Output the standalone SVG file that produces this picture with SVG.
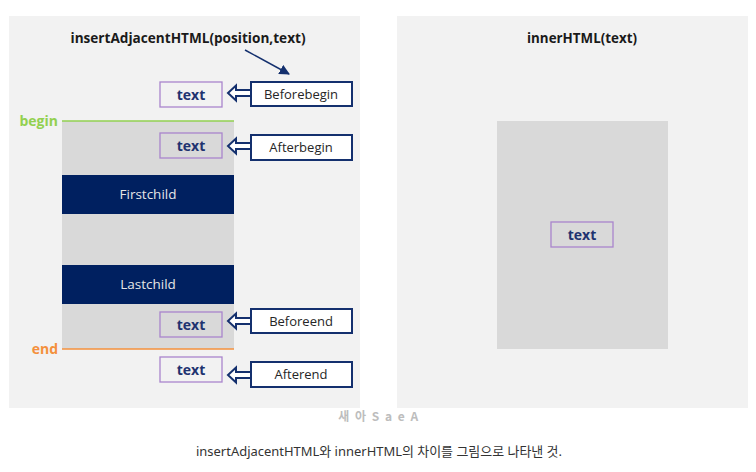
<svg xmlns="http://www.w3.org/2000/svg" width="756" height="472" viewBox="0 0 756 472">
<defs>
<style>
.panel{fill:#f2f2f2}
.title{font-family:"Open Sans","Noto Sans",sans-serif;font-weight:bold;font-size:14px;fill:#1a1a1a;text-anchor:middle}
.tbox{fill:none;stroke:#a984cc;stroke-width:1.3}
.ttxt{font-family:"Open Sans","Noto Sans",sans-serif;font-weight:bold;font-size:14px;fill:#1f3370;text-anchor:middle}
.lbox{fill:#ffffff;stroke:#14306e;stroke-width:2}
.ltxt{font-family:"Open Sans","Noto Sans",sans-serif;font-size:13px;fill:#262626;text-anchor:middle}
.child{fill:#002060}
.ctxt{font-family:"Open Sans","Noto Sans",sans-serif;font-size:13.5px;fill:#e6e6e6;text-anchor:middle}
.barrow{fill:#ffffff;stroke:#14306e;stroke-width:2;stroke-linejoin:miter}
</style>
<marker id="ah" viewBox="0 0 10 10" refX="9" refY="5" markerWidth="7" markerHeight="7" orient="auto">
<path d="M0,0 L10,5 L0,10 z" fill="#14306e"/>
</marker>
<path id="blk" d="M0,0 L8,-7.5 L8,-3 L23,-3 L23,3 L8,3 L8,7.5 Z"/>
</defs>
<rect class="panel" x="9" y="16" width="351" height="392"/>
<rect class="panel" x="397" y="16" width="351" height="392"/>
<text class="title" x="188" y="43" textLength="235" lengthAdjust="spacingAndGlyphs">insertAdjacentHTML(position,text)</text>
<text class="title" x="582" y="43" textLength="110" lengthAdjust="spacingAndGlyphs">innerHTML(text)</text>
<g id="element">
<rect x="62" y="121" width="172" height="228" fill="#d9d9d9"/>
</g>
<g id="begin">
<line x1="62" y1="121" x2="234" y2="121" stroke="#92d050" stroke-width="1.5"/>
<text x="58" y="126" font-family="Open Sans,Noto Sans,sans-serif" font-weight="bold" font-size="14" fill="#92d050" text-anchor="end">begin</text>
</g>
<g id="end">
<line x1="62" y1="349" x2="234" y2="349" stroke="#f4903c" stroke-width="1.5"/>
<text x="58" y="354" font-family="Open Sans,Noto Sans,sans-serif" font-weight="bold" font-size="14" fill="#f4903c" text-anchor="end">end</text>
</g>
<g id="firstchild">
<rect class="child" x="62" y="175" width="172" height="39"/>
<text class="ctxt" x="148" y="199">Firstchild</text>
</g>
<g id="lastchild">
<rect class="child" x="62" y="265" width="172" height="39"/>
<text class="ctxt" x="148" y="289">Lastchild</text>
</g>
<g id="text-beforebegin">
<rect class="tbox" x="160" y="82" width="62" height="25"/>
<text class="ttxt" x="191" y="100">text</text>
</g>
<g id="text-afterbegin">
<rect class="tbox" x="160" y="133" width="62" height="25"/>
<text class="ttxt" x="191" y="151">text</text>
</g>
<g id="text-beforeend">
<rect class="tbox" x="160" y="312" width="62" height="25"/>
<text class="ttxt" x="191" y="330">text</text>
</g>
<g id="text-afterend">
<rect class="tbox" x="160" y="357" width="62" height="25"/>
<text class="ttxt" x="191" y="375">text</text>
</g>
<g id="label-beforebegin">
<rect class="lbox" x="251" y="82" width="101" height="24"/>
<text class="ltxt" x="301" y="99">Beforebegin</text>
</g>
<g id="label-afterbegin">
<rect class="lbox" x="251" y="135" width="101" height="25"/>
<text class="ltxt" x="301" y="152">Afterbegin</text>
</g>
<g id="label-beforeend">
<rect class="lbox" x="251" y="309" width="101" height="24"/>
<text class="ltxt" x="301" y="326">Beforeend</text>
</g>
<g id="label-afterend">
<rect class="lbox" x="251" y="362" width="101" height="25"/>
<text class="ltxt" x="301" y="379">Afterend</text>
</g>
<g id="inner-element">
<rect x="497" y="121" width="171" height="228" fill="#d9d9d9"/>
<rect class="tbox" x="551" y="222" width="62" height="25"/>
<text class="ttxt" x="582" y="240">text</text>
</g>
<g id="connectors">
<use href="#blk" class="barrow" x="228" y="93"/>
<use href="#blk" class="barrow" x="228" y="146"/>
<use href="#blk" class="barrow" x="228" y="321"/>
<use href="#blk" class="barrow" x="228" y="375"/>
<line x1="245" y1="50" x2="289" y2="74" stroke="#14306e" stroke-width="1.5" marker-end="url(#ah)"/>
</g>
<text x="379" y="421" font-family="Noto Sans CJK KR,sans-serif" font-size="12" font-weight="bold" fill="#bdbdbd" text-anchor="middle" letter-spacing="1.5">새 아 S a e A</text>
<text x="379" y="456" font-family="Noto Sans,Noto Sans CJK KR,sans-serif" font-size="13" fill="#333333" text-anchor="middle" textLength="366" lengthAdjust="spacingAndGlyphs">insertAdjacentHTML와 innerHTML의 차이를 그림으로 나타낸 것.</text>
</svg>
